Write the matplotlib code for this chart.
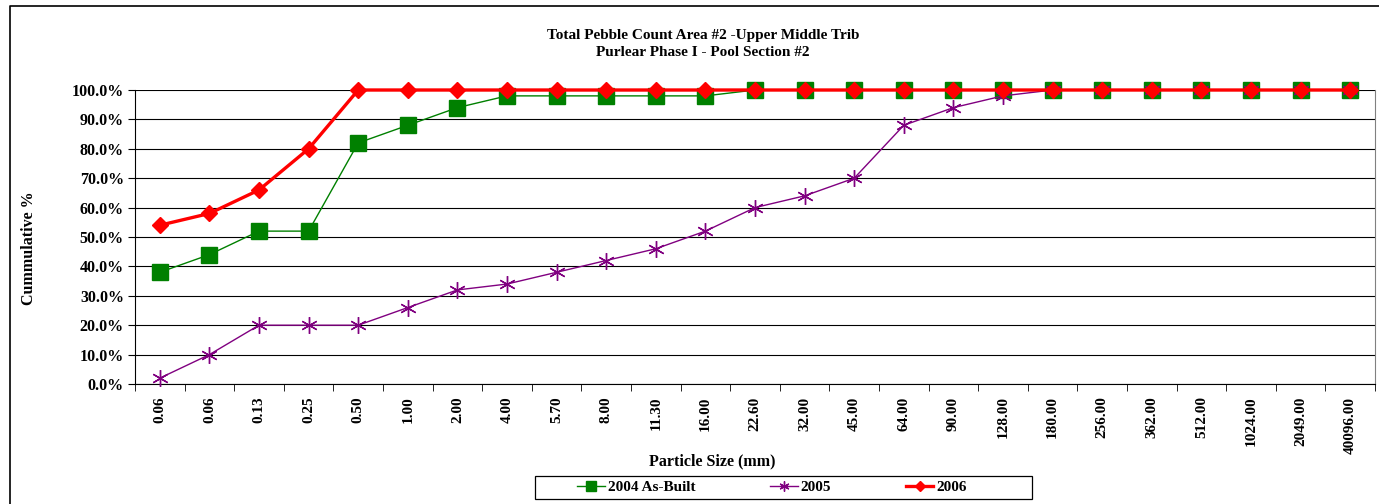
import numpy as np
import matplotlib
matplotlib.use("Agg")
import matplotlib.pyplot as plt
from matplotlib.lines import Line2D
from matplotlib.patches import Rectangle
from matplotlib.ticker import FuncFormatter

plt.rcParams['font.family'] = ['Liberation Serif', 'DejaVu Serif']
plt.rcParams['font.weight'] = 'bold'

# particle sizes (mm) used as category labels
sizes = ['0.06', '0.06', '0.13', '0.25', '0.50', '1.00', '2.00', '4.00', '5.70',
         '8.00', '11.30', '16.00', '22.60', '32.00', '45.00', '64.00', '90.00',
         '128.00', '180.00', '256.00', '362.00', '512.00', '1024.00', '2049.00',
         '40096.00']

# cumulative percent finer
as_built_2004 = [38, 44, 52, 52, 82, 88, 94, 98, 98, 98, 98, 98, 100, 100, 100,
                 100, 100, 100, 100, 100, 100, 100, 100, 100, 100]
y2005 = [2, 10, 20, 20, 20, 26, 32, 34, 38, 42, 46, 52, 60, 64, 70, 88, 94, 98,
         100, 100, 100, 100, 100, 100, 100]
y2006 = [54, 58, 66, 80, 100, 100, 100, 100, 100, 100, 100, 100, 100, 100, 100,
         100, 100, 100, 100, 100, 100, 100, 100, 100, 100]

FS = 11.5
W, H = 1379, 504
fig = plt.figure(figsize=(W / 100, H / 100), dpi=100)
ax = fig.add_axes([135 / W, 1 - 384 / H, 1240 / W, 294 / H])

x = np.arange(len(sizes))
ax.plot(x, as_built_2004, color='#008000', lw=1, marker='s', ms=11.5,
        mec='#008000', label='2004 As-Built', zorder=3, clip_on=False)
ax.plot(x, y2005, color='#800080', lw=1, marker=(6, 2, 0), ms=12,
        mew=1, label='2005', zorder=4, clip_on=False)
ax.plot(x, y2006, color='#ff0000', lw=2.4, marker='D', ms=8.5,
        label='2006', zorder=5, clip_on=False)

ax.set_xlim(-0.5, len(sizes) - 0.5)
ax.set_ylim(0, 100)
ax.set_yticks(np.arange(0, 101, 10))
ax.yaxis.set_major_formatter(FuncFormatter(lambda v, p: f'{v:.1f}%'))
ax.grid(axis='y', color='black', lw=0.8)
ax.set_axisbelow(True)

ax.set_xticks(x)
ax.set_xticklabels(sizes, rotation=90, fontsize=11, fontweight='bold')
ax.set_xticks(np.arange(-0.5, len(sizes), 1), minor=True)
ax.tick_params(axis='x', which='major', length=0, pad=9)
ax.tick_params(axis='x', which='minor', length=5, direction='out')
ax.tick_params(axis='y', labelsize=FS, length=5, direction='out', pad=3)
for lab in ax.get_yticklabels():
    lab.set_fontweight('bold')

ax.spines['top'].set_visible(False)
ax.spines['right'].set_color('#808080')
ax.spines['left'].set_color('black')
ax.spines['bottom'].set_color('black')

fig.text(712 / W, 1 - 461 / H, 'Particle Size (mm)', ha='center', va='center',
         fontsize=FS, fontweight='bold')
fig.text(29 / W, 1 - 248 / H, 'Cummulative %', rotation=90, ha='center',
         va='center', fontsize=FS, fontweight='bold')

fig.text(703 / W, 1 - 35 / H, 'Total Pebble Count Area #2 -Upper Middle Trib',
         ha='center', va='center', fontsize=11, fontweight='bold')
fig.text(703 / W, 1 - 53 / H, 'Purlear Phase I - Pool Section #2',
         ha='center', va='center', fontsize=11, fontweight='bold')

# legend entries without their own frame, boxed separately below
leg = fig.legend(loc='center left', bbox_to_anchor=(577 / W, 1 - 487.5 / H),
                 ncol=3, fontsize=11, frameon=False, columnspacing=4.9,
                 handlelength=1.8, handletextpad=0.2, borderpad=0,
                 borderaxespad=0, markerscale=0.6)
fig.add_artist(Rectangle((535 / W, 1 - 499 / H), 497 / W, 23 / H,
                         transform=fig.transFigure, fill=False,
                         edgecolor='black', lw=0.9))

# outer chart border
fig.add_artist(Line2D([10 / W, 10 / W, 1], [0, 1 - 6 / H, 1 - 6 / H],
                      transform=fig.transFigure, color='black', lw=1.2))

fig.savefig('out.png', dpi=100)
